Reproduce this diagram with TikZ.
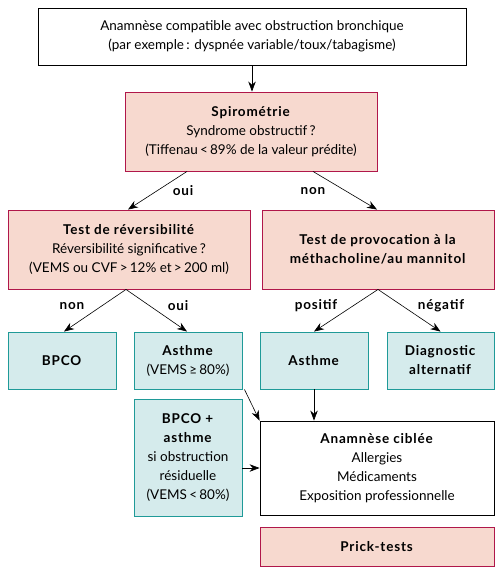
\documentclass[tikz,border=0pt]{standalone}
\usepackage{fontspec}
\setmainfont{Lato}[BoldFeatures={LetterSpace=6}]
\usetikzlibrary{arrows.meta}
\definecolor{pinkfill}{HTML}{F7D9CF}
\definecolor{pinkline}{HTML}{B0174A}
\definecolor{tealfill}{HTML}{D5EBEC}
\definecolor{tealline}{HTML}{1F9A98}
\begin{document}
\begin{tikzpicture}[x=1pt,y=-1pt,
  box/.style={draw,line width=0.9pt,inner sep=0pt,align=center,font=\fontsize{13.5}{19}\selectfont},
  whitebox/.style={box,draw=black,fill=white},
  pinkbox/.style={box,draw=pinkline,fill=pinkfill},
  tealbox/.style={box,draw=tealline,fill=tealfill},
  arr/.style={line width=0.6pt,-{Stealth[length=10pt,width=7.5pt]}},
  lab/.style={font=\fontsize{13.5}{15}\selectfont\bfseries,inner sep=0pt}]
\useasboundingbox[fill=white] (0,0) rectangle (503,575);
\node[whitebox,minimum width=428pt,minimum height=57pt] (top) at (252,36.5)
  {Anamnèse compatible avec obstruction bronchique\\(par exemple\,: dyspnée variable/toux/tabagisme)};
\node[pinkbox,minimum width=252pt,minimum height=79pt] (spiro) at (251,131.5)
  {\textbf{Spirométrie}\\Syndrome obstructif\,?\\(Tiffenau\,<\,89\% de la valeur prédite)};
\node[pinkbox,minimum width=242pt,minimum height=79pt] (rev) at (129,249.5)
  {\textbf{Test de réversibilité}\\Réversibilité significative\,?\\(VEMS ou CVF\,>\,12\% et\,>\,200 ml)};
\node[pinkbox,minimum width=232pt,minimum height=79pt] (prov) at (378,249.5)
  {\textbf{Test de provocation à la}\\\textbf{méthacholine/au mannitol}};
\node[tealbox,minimum width=108pt,minimum height=57pt] (bpco) at (62,360.5) {\textbf{BPCO}};
\node[tealbox,minimum width=108pt,minimum height=57pt] (asth1) at (188,360.5) {\textbf{Asthme}\\(VEMS\,≥\,80\%)};
\node[tealbox,minimum width=108pt,minimum height=57pt] (asth2) at (314,360.5) {\textbf{Asthme}};
\node[tealbox,minimum width=107pt,minimum height=57pt] (diag) at (440.5,360.5) {\textbf{Diagnostic}\\\textbf{alternatif}};
\node[tealbox,minimum width=108pt,minimum height=117pt] (bpcoa) at (188,457.5)
  {\textbf{BPCO +}\\\textbf{asthme}\\si obstruction\\résiduelle\\(VEMS\,<\,80\%)};
\node[whitebox,minimum width=234pt,minimum height=94pt] (anam) at (377,468)
  {\textbf{Anamnèse ciblée}\\Allergies\\Médicaments\\Exposition professionnelle};
\node[pinkbox,minimum width=234pt,minimum height=39pt] (prick) at (377,546.5) {\textbf{Prick-tests}};
\draw[arr] (top.south) -- (top.south |- spiro.north);
\draw[arr] ([xshift=-64pt]spiro.south) -- ([xshift=-1pt]rev.north);
\draw[arr] ([xshift=62pt]spiro.south) -- ([xshift=-1pt]prov.north);
\draw[arr] ([xshift=-3pt]rev.south) -- ([xshift=2pt]bpco.north);
\draw[arr] ([xshift=-3pt]rev.south) -- ([xshift=-1pt]asth1.north);
\draw[arr] (prov.south) -- (asth2.north);
\draw[arr] (prov.south) -- (diag.north);
\draw[arr] ([xshift=2pt]asth1.south east) -- (anam.north west);
\draw[arr] (asth2.south) -- (asth2.south |- anam.north);
\draw[arr] (bpcoa.east |- anam.west) -- (anam.west);
\node[lab] (l1) at (183,191) {oui};
\node[lab] (l2) at (313,191) {non};
\node[lab] (l3) at (72,306) {non};
\node[lab] (l4) at (178,306) {oui};
\node[lab] (l5) at (316,306) {positif};
\node[lab] (l6) at (441,306) {négatif};
\end{tikzpicture}
\end{document}
